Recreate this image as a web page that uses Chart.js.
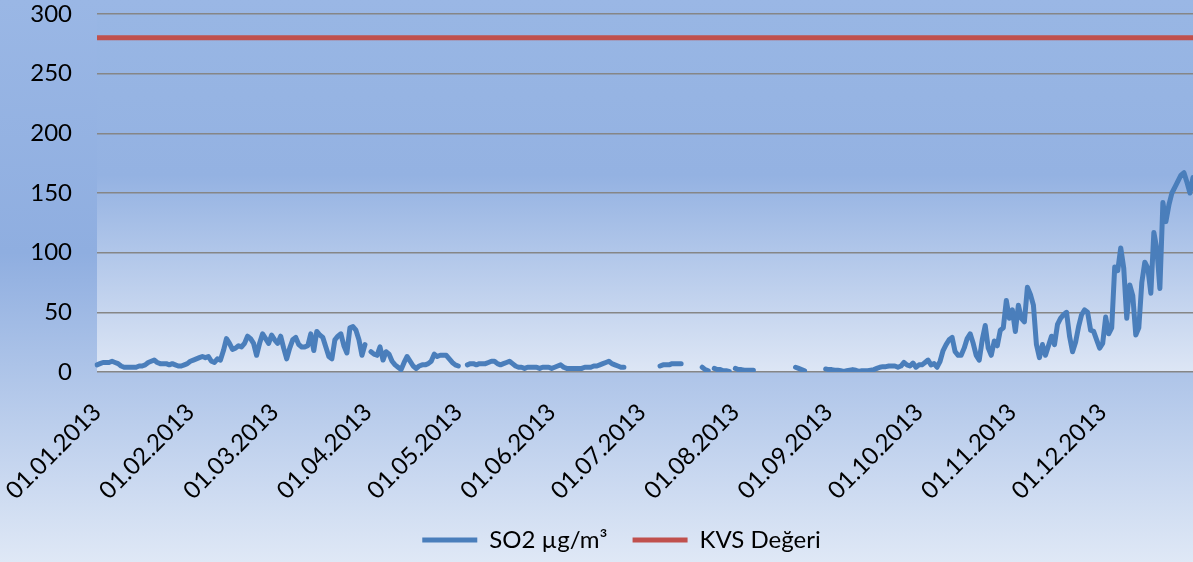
<!DOCTYPE html>
<html>
<head>
<meta charset="utf-8">
<script src="https://cdn.jsdelivr.net/npm/chart.js@4.4.0/dist/chart.umd.min.js"></script>
<style>
html, body { margin: 0; padding: 0; background: #dfe8f6; }
#wrap { width: 1193px; height: 562px; position: relative; }
</style>
</head>
<body>
<div id="wrap"><canvas id="so2Chart"></canvas></div>
<script>
// daily SO2 values for 2013, one array per month (null = no measurement)
const jan = [6,7,8,8,8,9,8,7,5,4, 4,4,4,4,5,5,6,8,9,10, 8,7,7,7,6,7,6,5,5,6, 7];
const feb = [9,10,11,12,13,12,13,9,8,11, 10,18,28,24,19,20,22,21,24,30, 28,24,14,24,32,28,24,31];
const mar = [27,24,30,20,11,20,27,29,23,21, 21,22,32,18,34,31,29,21,13,11, 27,30,32,22,16,37,38,35,27,14, 23];
const apr = [null,17,15,14,21,10,17,15,9,6, 4,2,8,13,9,5,3,5,6,6, 7,9,15,13,14,14,14,11,8,6];
const may = [5,null,null,6,7,7,6,7,7,7, 8,9,9,7,6,7,8,9,7,5, 4,4,3,4,4,4,4,3,4,4, 4];
const jun = [3,4,5,6,4,3,3,3,3,3, 3,4,4,4,5,5,6,7,8,9, 7,6,5,4,4,null,null,null,null,null];
const jul = [null,null,null,null,null,null,5,6,6,6, 7,7,7,7,null,null,null,null,null,null, 4,2,1,null,3,2,2,1,1,0.5, null];
const aug = [3,2,2,1.5,1.5,1.5,1.5,null,null,null, null,null,null,null,null,null,null,null,null,null, 4,3,2,1,null,null,null,null,null,null, 2.5];
const sep = [2,2,1.5,1.5,1,0.5,1,1.5,2,1.5, 0.5,1,1,1,1.5,2,3,4,4.5,4.5, 5,5,5,4,5,8,6,5,7.5,4];
const oct = [6,6,8,10,6,7,4,9,18,23, 27,29,17,14,14,20,28,32,24,14, 10,27,39,20,14,26,22,35,37,60, 45];
const nov = [52,34,56,45,42,71,65,56,23,12, 23,14,22,30,23,40,45,48,50,30, 17,25,38,48,52,50,35,34,27,20];
const dec = [24,46,32,37,88,85,104,87,45,73, 64,31,37,75,92,87,66,117,103,70, 142,126,140,150,155,160,165,167,159,150, 163];

const so2 = [].concat(jan, feb, mar, apr, may, jun, jul, aug, sep, oct, nov, dec);
const kvsLimit = 280;

const monthTicks = ['01.01.2013','01.02.2013','01.03.2013','01.04.2013','01.05.2013','01.06.2013',
                    '01.07.2013','01.08.2013','01.09.2013','01.10.2013','01.11.2013','01.12.2013'];

// one category per day of 2013
var days = [];
for (var i = 0; i < so2.length; i++) {
    var d = new Date(Date.UTC(2013, 0, 1 + i));
    var dd = String(d.getUTCDate()).padStart(2, '0');
    var mm = String(d.getUTCMonth() + 1).padStart(2, '0');
    days.push(dd + '.' + mm + '.2013');
}
var kvs = days.map(function() { return kvsLimit; });

Chart.defaults.font.family = 'Lato, "Open Sans", sans-serif';
Chart.defaults.font.size = 24;
Chart.defaults.color = '#000';

// background fills: whole chart and plot area
const bgPlugin = {
    id: 'bgFill',
    beforeDraw: function(chart) {
        const c = chart.ctx, a = chart.chartArea;
        let g = c.createLinearGradient(0, 0, 0, chart.height);
        g.addColorStop(0, '#9ab7e5');
        g.addColorStop(0.45, '#8faee0');
        g.addColorStop(1, '#dfe8f6');
        c.save();
        c.fillStyle = g;
        c.fillRect(0, 0, chart.width, chart.height);
        g = c.createLinearGradient(0, a.top, 0, a.bottom);
        g.addColorStop(0, '#98b6e4');
        g.addColorStop(0.45, '#94b2e2');
        g.addColorStop(1, '#dde6f5');
        c.fillStyle = g;
        c.fillRect(a.left, a.top, a.right - a.left, a.bottom - a.top);
        c.restore();
    },
    afterLayout: function(chart) {
        // legend sits a bit right of centre in the original
        chart.legend.left += 50;
    }
};

const ctx = document.getElementById('so2Chart').getContext('2d');
const so2Chart = new Chart(ctx, {
    type: 'line',
    data: {
        labels: days,
        datasets: [{
            label: 'SO2 µg/m³',
            data: so2,
            borderColor: '#4a7ebb',
            backgroundColor: '#4a7ebb',
            borderWidth: 5,
            borderJoinStyle: 'round',
            borderCapStyle: 'round',
            pointRadius: 0,
            tension: 0,
            spanGaps: false
        }, {
            label: 'KVS Değeri',
            data: kvs,
            borderColor: '#c0504d',
            backgroundColor: '#c0504d',
            borderWidth: 5,
            pointRadius: 0,
            tension: 0
        }]
    },
    options: {
        responsive: true,
        maintainAspectRatio: false,
        animation: false,
        devicePixelRatio: 1,
        layout: { padding: { left: 0, right: 0, top: 14, bottom: 0 } },
        plugins: {
            tooltip: { enabled: false },
            legend: {
                position: 'bottom',
                labels: {
                    usePointStyle: true,
                    pointStyle: 'line',
                    pointStyleWidth: 55,
                    padding: 25,
                    color: '#000',
                    font: { size: 24 }
                }
            }
        },
        scales: {
            x: {
                grid: { display: false },
                border: { display: false },
                ticks: {
                    autoSkip: false,
                    minRotation: 45,
                    maxRotation: 45,
                    padding: 18,
                    callback: function(value, index) {
                        return monthTicks.indexOf(days[index]) >= 0 ? days[index] : '';
                    }
                },
                afterFit: function(scale) {
                    scale.height = 131;
                    scale.paddingLeft = 0;
                    scale.paddingRight = 0;
                }
            },
            y: {
                min: 0,
                max: 300,
                ticks: { stepSize: 50, padding: 25 },
                grid: { color: '#868686', lineWidth: 1.5, drawTicks: false },
                border: { display: false },
                afterFit: function(scale) {
                    scale.width = 97;
                    scale.paddingTop = 0;
                    scale.paddingBottom = 0;
                }
            }
        }
    },
    plugins: [bgPlugin]
});
</script>
</body>
</html>
